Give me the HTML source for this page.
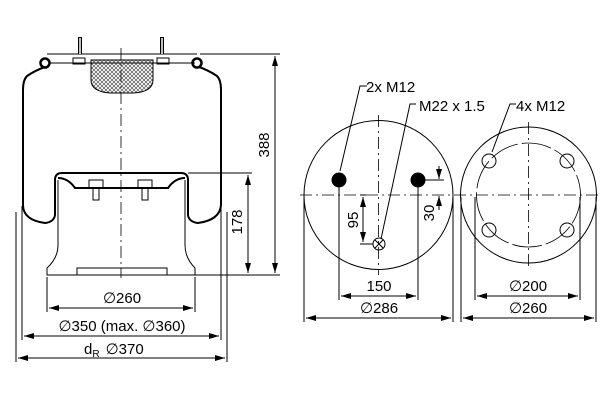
<!DOCTYPE html>
<html><head><meta charset="utf-8"><style>body{margin:0;background:#fff}svg{display:block}text{font-family:"Liberation Sans",sans-serif;fill:#000}</style></head><body>
<svg width="600" height="400" viewBox="0 0 600 400" xmlns="http://www.w3.org/2000/svg">
<defs>
<marker id="a" viewBox="0 0 10 6" refX="10" refY="3" markerWidth="10" markerHeight="6" orient="auto-start-reverse" markerUnits="userSpaceOnUse"><path d="M0,0L10,3L0,6z" fill="#000"/></marker>
<pattern id="h" width="4" height="4" patternUnits="userSpaceOnUse"><path d="M0,4L4,0M0,0L4,4" stroke="#555" stroke-width="0.7"/></pattern>
</defs>
<g fill="none" stroke="#000" stroke-width="1">
<line x1="47" y1="54" x2="197" y2="54"/>
<path d="M80,37v17M162,37v17" stroke-width="4"/>
<path d="M80,38v16M162,38v16" stroke="#fff" stroke-width="1.5"/>
<rect x="73" y="58" width="12" height="6"/><rect x="157" y="58" width="12" height="6"/>
<path d="M91,60h62v20q0,12-20,13h-22q-20-1-20-13z" fill="url(#h)"/>
<circle cx="45" cy="63" r="4.5" stroke-width="2.5"/><circle cx="197" cy="63" r="4.5" stroke-width="2.5"/>
<path d="M45,67 Q36,70 27,76 Q23,80 23,90 V205 Q23,220 45,223 Q54,222 55,215 V180 Q55,173 62,173 H181 Q188,173 188,180 V215 Q189,222 198,223 Q220,220 221,205 V90 Q221,80 217,76 Q208,70 199,67" stroke-width="2"/>
<path d="M49,63H195"/>
<path d="M58,178 Q68,178 75,188 H168 Q175,178 185,178" stroke-width="2"/>
<path d="M58,180 V245 Q58,258 47,268 V275 H195 V268 Q185,258 185,245 V180"/>
<path d="M77,275v-7h90v7"/>
<rect x="89" y="180" width="14" height="8"/><rect x="138" y="180" width="14" height="8"/>
<rect x="93" y="188" width="6" height="12"/><rect x="142" y="188" width="6" height="12"/>
<line x1="121" y1="48" x2="121" y2="278" stroke-dasharray="12,4,2,4" stroke-width="0.8"/>
<path d="M200,54H280M188,173H252M195,275H280"/>
<line x1="275" y1="56" x2="275" y2="273" marker-start="url(#a)" marker-end="url(#a)"/>
<line x1="248" y1="175" x2="248" y2="273" marker-start="url(#a)" marker-end="url(#a)"/>
<path d="M47,277V312M195,277V312M22,206V340M221,206V340M16,212V362M227,212V362"/>
<line x1="49" y1="308" x2="193" y2="308" marker-start="url(#a)" marker-end="url(#a)"/>
<line x1="24" y1="336" x2="219" y2="336" marker-start="url(#a)" marker-end="url(#a)"/>
<line x1="18" y1="358" x2="225" y2="358" marker-start="url(#a)" marker-end="url(#a)"/>
<circle cx="378.5" cy="195" r="74.5"/>
<circle cx="528.5" cy="195" r="68"/>
<circle cx="528.5" cy="195" r="52" stroke-dasharray="30,4" stroke-width="0.8"/>
<line x1="300" y1="195" x2="600" y2="195" stroke-dasharray="12,4,2,4" stroke-width="0.8"/>
<line x1="378.5" y1="115" x2="378.5" y2="275" stroke-dasharray="12,4,2,4" stroke-width="0.8"/>
<line x1="528.5" y1="122" x2="528.5" y2="268" stroke-dasharray="12,4,2,4" stroke-width="0.8"/>
<circle cx="339" cy="180" r="7" fill="#000"/><circle cx="418" cy="180" r="7" fill="#000"/>
<circle cx="379" cy="244" r="6"/><path d="M375,240l8,8M383,240l-8,8"/>
<circle cx="489" cy="161" r="7"/><circle cx="567" cy="161" r="7"/><circle cx="489" cy="230" r="7"/><circle cx="567" cy="230" r="7"/>
<path d="M339,187V300M418,187V300M304,197V322M453,197V322M461,197V322M596,197V322M475,197V300M580,197V300"/>
<line x1="341" y1="296" x2="416" y2="296" marker-start="url(#a)" marker-end="url(#a)"/>
<line x1="306" y1="318" x2="451" y2="318" marker-start="url(#a)" marker-end="url(#a)"/>
<line x1="477" y1="296" x2="578" y2="296" marker-start="url(#a)" marker-end="url(#a)"/>
<line x1="463" y1="318" x2="594" y2="318" marker-start="url(#a)" marker-end="url(#a)"/>
<path d="M360,244H373M360,195H366"/>
<line x1="363" y1="197" x2="363" y2="242" marker-start="url(#a)" marker-end="url(#a)"/>
<path d="M425,180H444"/>
<line x1="439" y1="166" x2="439" y2="179" marker-end="url(#a)"/>
<line x1="439" y1="210" x2="439" y2="196" marker-end="url(#a)"/>
<path d="M340,171L360,86H367M381,239L410,104H416M492,152L510,104H516"/>
</g>
<g font-size="15">
<text x="269" y="145" transform="rotate(-90 269 145)" text-anchor="middle">388</text>
<text x="242" y="222" transform="rotate(-90 242 222)" text-anchor="middle">178</text>
<text x="122" y="303" text-anchor="middle">∅260</text>
<text x="122" y="331" text-anchor="middle">∅350 (max. ∅360)</text>
<text x="84" y="354">d<tspan font-size="10" dy="3">R</tspan><tspan dy="-3" dx="6">∅370</tspan></text>
<text x="366" y="92">2x M12</text>
<text x="419" y="111">M22 x 1.5</text>
<text x="516" y="111">4x M12</text>
<text x="358" y="220" transform="rotate(-90 358 220)" text-anchor="middle">95</text>
<text x="434" y="213" transform="rotate(-90 434 213)" text-anchor="middle">30</text>
<text x="379" y="291" text-anchor="middle">150</text>
<text x="379" y="313" text-anchor="middle">∅286</text>
<text x="528" y="291" text-anchor="middle">∅200</text>
<text x="528" y="313" text-anchor="middle">∅260</text>
</g>
</svg>
</body></html>
